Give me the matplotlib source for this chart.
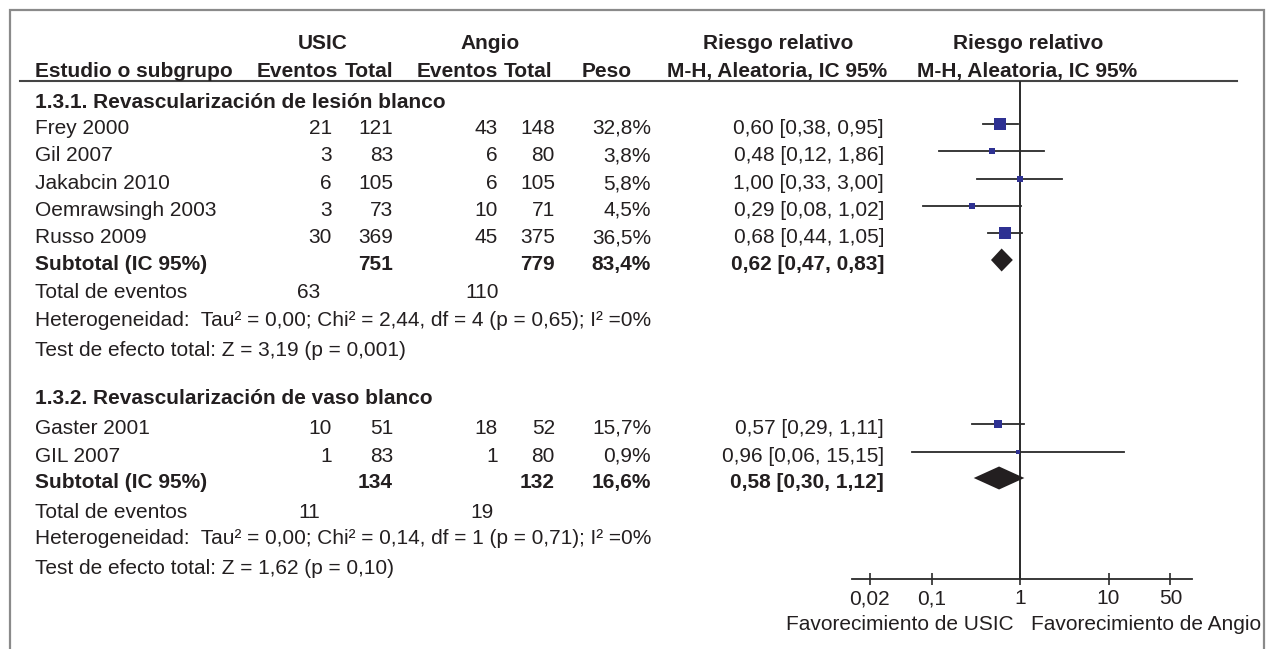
import matplotlib
matplotlib.use("Agg")
import matplotlib.pyplot as plt
from matplotlib.ticker import NullLocator

plt.rcParams['font.family'] = ['Liberation Sans', 'DejaVu Sans']
plt.rcParams['font.size'] = 15

# --- datos por subgrupo ---
subgroup_titles = ['1.3.1. Revascularización de lesión blanco',
                   '1.3.2. Revascularización de vaso blanco']

studies_1 = ['Frey 2000', 'Gil 2007', 'Jakabcin 2010', 'Oemrawsingh 2003', 'Russo 2009']
usic_ev_1 = [21, 3, 6, 3, 30]
usic_n_1 = [121, 83, 105, 73, 369]
angio_ev_1 = [43, 6, 6, 10, 45]
angio_n_1 = [148, 80, 105, 71, 375]
peso_1 = [32.8, 3.8, 5.8, 4.5, 36.5]
rr_1 = [0.60, 0.48, 1.00, 0.29, 0.68]
lo_1 = [0.38, 0.12, 0.33, 0.08, 0.44]
hi_1 = [0.95, 1.86, 3.00, 1.02, 1.05]

studies_2 = ['Gaster 2001', 'GIL 2007']
usic_ev_2 = [10, 1]
usic_n_2 = [51, 83]
angio_ev_2 = [18, 1]
angio_n_2 = [52, 80]
peso_2 = [15.7, 0.9]
rr_2 = [0.57, 0.96]
lo_2 = [0.29, 0.06]
hi_2 = [1.11, 15.15]

# subtotales (IC 95%)
sub_usic_n = [751, 134]
sub_angio_n = [779, 132]
sub_peso = [83.4, 16.6]
sub_rr = [0.62, 0.58]
sub_lo = [0.47, 0.30]
sub_hi = [0.83, 1.12]
tot_usic_ev = [63, 11]
tot_angio_ev = [110, 19]

heterog = ['Heterogeneidad:  Tau² = 0,00; Chi² = 2,44, df = 4 (p = 0,65); I² =0%',
           'Heterogeneidad:  Tau² = 0,00; Chi² = 0,14, df = 1 (p = 0,71); I² =0%']
efecto = ['Test de efecto total: Z = 3,19 (p = 0,001)',
          'Test de efecto total: Z = 1,62 (p = 0,10)']

tick_vals = [0.02, 0.1, 1, 10, 50]
tick_labels = ['0,02', '0,1', '1', '10', '50']


def coma(v, nd=2):
    return f'{v:.{nd}f}'.replace('.', ',')


# --- layout (pixeles) ---
W, H = 1272, 649
x_name = 35
x_uev, x_un, x_aev, x_an, x_peso, x_rr = 332, 393, 498, 555, 651, 884
x_tot_u, x_tot_a = 309, 482
# lineas base de cada fila de texto
base_1 = dict(title=108, rows=[134, 161, 189, 216, 243], sub=270, tot=298, het=326, test=356)
base_2 = dict(title=404, rows=[434, 462], sub=488, tot=518, het=544, test=574)
mk_off = 10          # el marcador queda por encima de la linea base
ax_top, ax_bot = 81, 579
ax_left, ax_right = 852, 1192
px_decade = 88.5
x_one = 1020

ink = '#231f20'
blue = '#2e3192'
line_c = '#2a2a2a'

fig = plt.figure(figsize=(W / 100, H / 100), dpi=100)
bg = fig.add_axes([0, 0, 1, 1])
bg.set_xlim(0, W)
bg.set_ylim(H, 0)
bg.axis('off')

# marco y linea de cabecera
bg.plot([10, 10, 1264, 1264], [H, 10, 10, H], color='#8a8a8a', lw=1.6, solid_joinstyle='miter')
bg.plot([20, 1237], [ax_top, ax_top], color='#444444', lw=1.5)


def txt(x, y, s, ha='left', bold=False):
    bg.text(x, y, s, ha=ha, va='baseline', color=ink,
            fontweight='bold' if bold else 'normal')


# cabecera
txt(323, 49, 'USIC', ha='center', bold=True)
txt(490, 49, 'Angio', ha='center', bold=True)
txt(778, 49, 'Riesgo relativo', ha='center', bold=True)
txt(1028, 49, 'Riesgo relativo', ha='center', bold=True)
txt(x_name, 77, 'Estudio o subgrupo', bold=True)
txt(338, 77, 'Eventos', ha='right', bold=True)
txt(x_un, 77, 'Total', ha='right', bold=True)
txt(498, 77, 'Eventos', ha='right', bold=True)
txt(552, 77, 'Total', ha='right', bold=True)
txt(632, 77, 'Peso', ha='right', bold=True)
txt(777, 77, 'M-H, Aleatoria, IC 95%', ha='center', bold=True)
txt(1027, 77, 'M-H, Aleatoria, IC 95%', ha='center', bold=True)

# grafico de bosque en escala log
fx = fig.add_axes([ax_left / W, (H - ax_bot) / H, (ax_right - ax_left) / W, (ax_bot - ax_top) / H])
fx.patch.set_alpha(0)
fx.set_xscale('log')
fx.set_xlim(10 ** ((ax_left - x_one) / px_decade), 10 ** ((ax_right - x_one) / px_decade))
fx.set_ylim(ax_bot, ax_top)
for s in ['top', 'left', 'right']:
    fx.spines[s].set_visible(False)
fx.spines['bottom'].set_color(line_c)
fx.spines['bottom'].set_linewidth(1.3)
fx.set_yticks([])
fx.set_xticks(tick_vals)
fx.set_xticklabels(tick_labels)
fx.xaxis.set_minor_locator(NullLocator())
fx.tick_params(axis='x', direction='inout', length=9, width=1.2, pad=3,
               labelsize=15, colors=line_c, labelcolor=ink)
fx.axvline(1, color=line_c, lw=1.4, zorder=1)

groups = [
    (studies_1, usic_ev_1, usic_n_1, angio_ev_1, angio_n_1, peso_1, rr_1, lo_1, hi_1, base_1),
    (studies_2, usic_ev_2, usic_n_2, angio_ev_2, angio_n_2, peso_2, rr_2, lo_2, hi_2, base_2),
]

for g, (names, uev, un, aev, an, peso, rr, lo, hi, base) in enumerate(groups):
    txt(x_name, base['title'], subgroup_titles[g], bold=True)
    for i, name in enumerate(names):
        yb = base['rows'][i]
        txt(x_name, yb, name)
        txt(x_uev, yb, str(uev[i]), ha='right')
        txt(x_un, yb, str(un[i]), ha='right')
        txt(x_aev, yb, str(aev[i]), ha='right')
        txt(x_an, yb, str(an[i]), ha='right')
        txt(x_peso, yb, coma(peso[i], 1) + '%', ha='right')
        txt(x_rr, yb, f'{coma(rr[i])} [{coma(lo[i])}, {coma(hi[i])}]', ha='right')

        ym = yb - mk_off
        fx.plot([lo[i], hi[i]], [ym, ym], color=line_c, lw=1.3, zorder=2)
        # lado del cuadrado (px) segun el peso del estudio
        side_px = 1.6 + 1.85 * peso[i] ** 0.5
        fx.plot(rr[i], ym, marker='s', ms=side_px * 0.72, color=blue, mec=blue, mew=0, zorder=3)

    yb = base['sub']
    txt(x_name, yb, 'Subtotal (IC 95%)', bold=True)
    txt(x_un, yb, str(sub_usic_n[g]), ha='right', bold=True)
    txt(x_an, yb, str(sub_angio_n[g]), ha='right', bold=True)
    txt(x_peso, yb, coma(sub_peso[g], 1) + '%', ha='right', bold=True)
    txt(x_rr, yb, f'{coma(sub_rr[g])} [{coma(sub_lo[g])}, {coma(sub_hi[g])}]', ha='right', bold=True)
    ym = yb - mk_off
    fx.fill([sub_lo[g], sub_rr[g], sub_hi[g], sub_rr[g]], [ym, ym - 11.5, ym, ym + 11.5],
            color=ink, lw=0, zorder=3)

    txt(x_name, base['tot'], 'Total de eventos')
    txt(x_tot_u, base['tot'], str(tot_usic_ev[g]), ha='center')
    txt(x_tot_a, base['tot'], str(tot_angio_ev[g]), ha='center')
    txt(x_name, base['het'], heterog[g])
    txt(x_name, base['test'], efecto[g])

txt(1014, 630, 'Favorecimiento de USIC', ha='right')
txt(1031, 630, 'Favorecimiento de Angio')

fig.savefig('out.png', dpi=100)
